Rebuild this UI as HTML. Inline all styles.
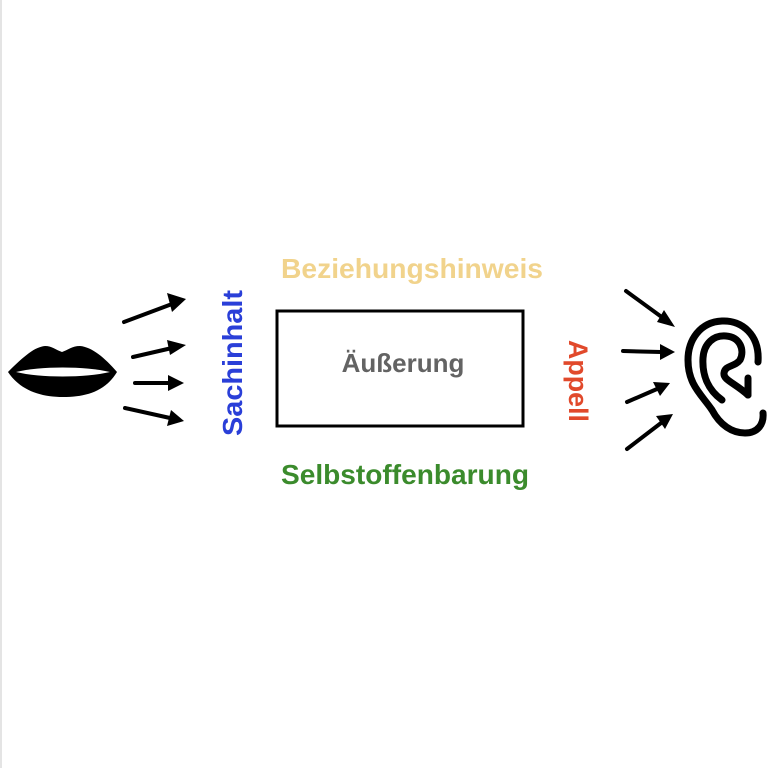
<!DOCTYPE html>
<html><head><meta charset="utf-8"><style>
html,body{margin:0;padding:0;background:#fff;}
svg{display:block}
text{font-family:"Liberation Sans",sans-serif;font-weight:bold;}
</style></head><body>
<svg width="768" height="768" viewBox="0 0 768 768">
<line x1="1" y1="0" x2="1" y2="768" stroke="#e4e4e4" stroke-width="2"/>
<path d="M8,372 C25,355 35,347 45,346 C52,346 56,350 62,352 C68,350 72,346 80,346 C92,347 105,358 117,372 C105,392 85,397 63,397 C40,397 20,390 8,372 Z" fill="#000"/>
<path d="M16,372 C40,366 85,366 110,372 C85,378 40,378 16,372 Z" fill="#fff"/>
<g stroke="#000" stroke-width="4" fill="none" stroke-linecap="round">
<line x1="124" y1="322" x2="172" y2="304"/>
<line x1="133" y1="357" x2="172" y2="348"/>
<line x1="135" y1="383" x2="170" y2="383"/>
<line x1="125" y1="408" x2="170" y2="418"/>
<line x1="626" y1="291" x2="663" y2="318"/>
<line x1="623" y1="351" x2="661" y2="352"/>
<line x1="627" y1="402" x2="657" y2="389"/>
<line x1="627" y1="449" x2="661" y2="423"/>
</g>
<g fill="#000">
<polygon points="186,299 167,293 172,312"/>
<polygon points="186,345 167,340 170,355"/>
<polygon points="184,383 168,375 168,391"/>
<polygon points="184,421 171,410 167,426"/>
<polygon points="675,327 664,310 657,322"/>
<polygon points="675,352 660,344 660,360"/>
<polygon points="670,383 653,382 660,396"/>
<polygon points="673,414 656,416 665,429"/>
</g>
<g stroke="#000" stroke-width="7" fill="none" stroke-linecap="round" stroke-linejoin="round">
<path d="M758,362 C760,335 742,320 722,321 C700,322 688,340 688,360 C688,385 702,395 712,410 C720,425 732,433 745,433 C758,433 764,424 763,413"/>
<path d="M722,400 C708,390 702,375 703,358 C704,343 714,335 726,336 C740,337 745,350 740,360 C735,367 725,365 724,373 C723,380 735,383 748,395"/>
<path d="M748,395 L748,378"/>
</g>
<rect x="277" y="311" width="246" height="115" fill="none" stroke="#000" stroke-width="3"/>
<text x="403" y="372" font-size="26" fill="#636363" text-anchor="middle">Äußerung</text>
<text x="412" y="278" font-size="28" fill="#f1d38c" text-anchor="middle" textLength="262" lengthAdjust="spacingAndGlyphs">Beziehungshinweis</text>
<text x="405" y="484" font-size="28" fill="#3b8b2c" text-anchor="middle" textLength="248" lengthAdjust="spacingAndGlyphs">Selbstoffenbarung</text>
<text transform="translate(242,363) rotate(-90)" font-size="28" fill="#2a3fd8" text-anchor="middle" textLength="146" lengthAdjust="spacingAndGlyphs">Sachinhalt</text>
<text transform="translate(569,381) rotate(90)" font-size="27" fill="#e1492b" text-anchor="middle" textLength="82" lengthAdjust="spacingAndGlyphs">Appell</text>
</svg>
</body></html>
